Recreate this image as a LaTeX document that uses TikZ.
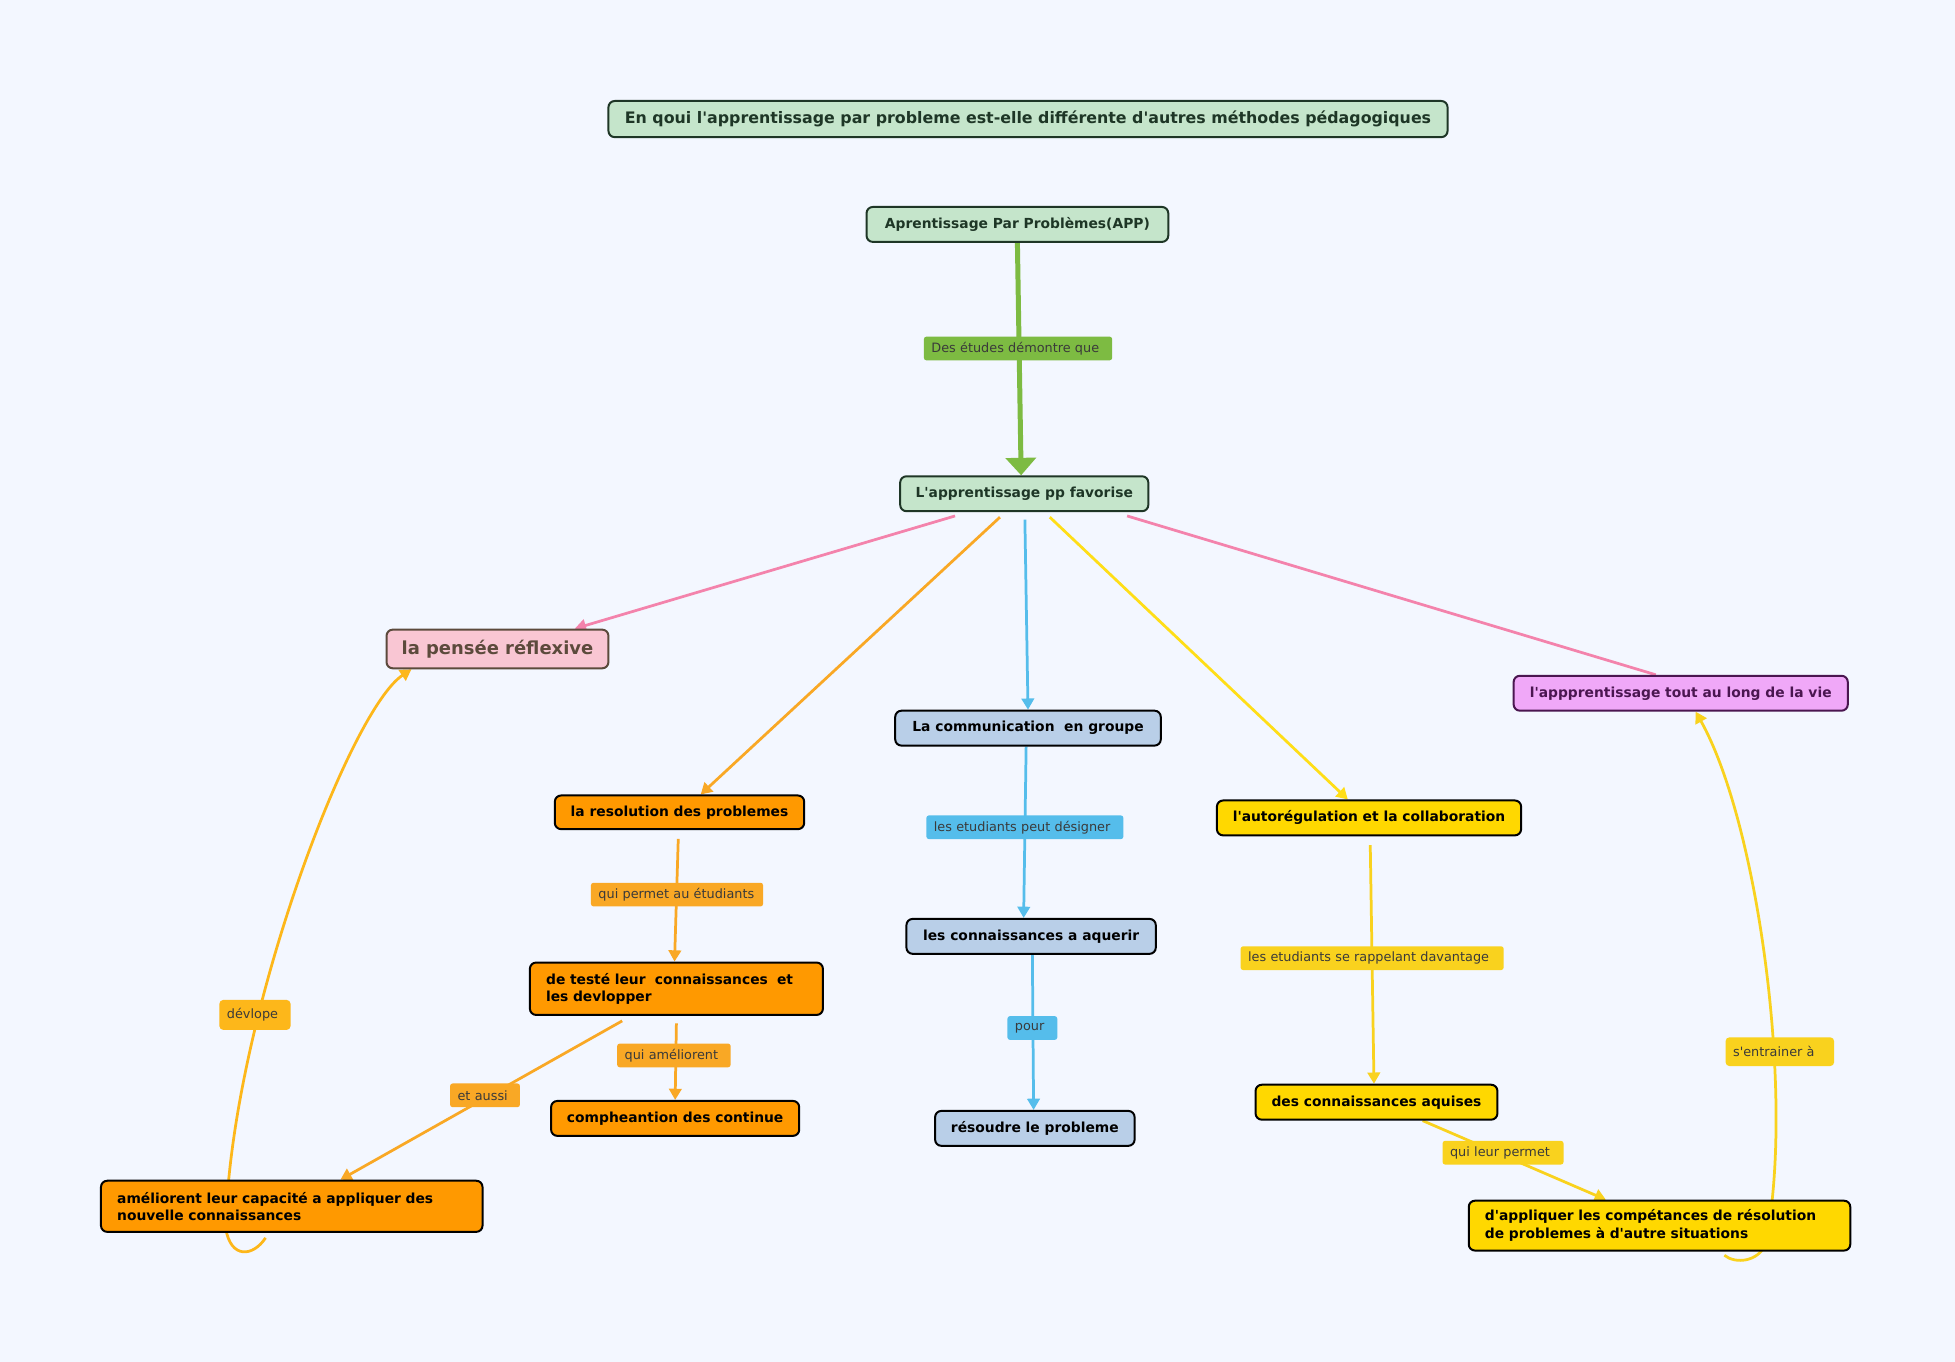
\documentclass[tikz,border=0pt]{standalone}
\usepackage{fontspec}
\setmainfont{DejaVu Sans}
\usetikzlibrary{arrows.meta,calc}
\newcommand{\aq}{\textquotesingle}
\definecolor{bgc}{HTML}{F3F7FF}
\definecolor{dkgreen}{HTML}{1E3626}
\definecolor{lgreen}{HTML}{C5E5CB}
\definecolor{egreen}{HTML}{7DBB42}
\definecolor{epink}{HTML}{F383AC}
\definecolor{eorange}{HTML}{F9A825}
\definecolor{eblue}{HTML}{55BDEB}
\definecolor{eyellow}{HTML}{FFDE17}
\definecolor{lyellow}{HTML}{F9D21E}
\definecolor{edev}{HTML}{FDB71A}
\definecolor{npink}{HTML}{F9C6D3}
\definecolor{nbrown}{HTML}{5C4A3C}
\definecolor{norange}{HTML}{FF9900}
\definecolor{nblue}{HTML}{B9CFE8}
\definecolor{nyellow}{HTML}{FFD800}
\definecolor{nviolet}{HTML}{F0A8F8}
\definecolor{dviolet}{HTML}{4A1650}
\definecolor{lbltext}{HTML}{3A3A3A}
\pgfdeclarelayer{backlayer}
\pgfdeclarelayer{edgelayer}
\pgfsetlayers{backlayer,edgelayer,main}
\tikzset{
  box/.style={draw=black, rounded corners=5pt, line width=1.6pt, inner sep=0pt,
    font=\bfseries\fontsize{11.1}{14}\selectfont, text=black},
  greenbox/.style={box, fill=lgreen, draw=dkgreen, text=dkgreen},
  orangebox/.style={box, fill=norange},
  bluebox/.style={box, fill=nblue},
  yellowbox/.style={box, fill=nyellow},
  lbl/.style={rounded corners=2pt, inner ysep=0pt, inner xsep=6pt, minimum height=19pt,
    align=left, font=\fontsize{10.3}{12}\selectfont, text=lbltext},
  conn/.style={line width=2.2pt, -{Triangle[width=10pt,length=9pt]}},
}
\begin{document}
\begin{tikzpicture}[x=1pt,y=-1pt]
\begin{pgfonlayer}{backlayer}
\fill[bgc] (0,0) rectangle (1568,1092);
\end{pgfonlayer}
\useasboundingbox (0,0) rectangle (1568,1092);

% main nodes
\node[greenbox, minimum width=673pt, minimum height=29pt, font=\bfseries\fontsize{12.7}{14}\selectfont] (title) at (824.5,95.5) {En qoui l\aq apprentissage par probleme est-elle différente d\aq autres méthodes pédagogiques};
\node[greenbox, minimum width=242pt, minimum height=28pt] (app) at (816,180) {Aprentissage Par Problèmes(APP)};
\node[greenbox, minimum width=199pt, minimum height=28pt] (fav) at (821.5,396) {L\aq apprentissage pp favorise};
\node[box, fill=npink, draw=nbrown, text=nbrown, minimum width=178pt, minimum height=31pt, font=\bfseries\fontsize{14.4}{16}\selectfont] (pen) at (399,520.5) {la pensée réflexive};
\node[orangebox, minimum width=200pt, minimum height=27pt] (res) at (545,651.5) {la resolution des problemes};
\node[bluebox, minimum width=213pt, minimum height=28pt] (com) at (824.5,584) {La communication\ \ en groupe};
\node[yellowbox, minimum width=244pt, minimum height=28pt] (aut) at (1098,656) {l\aq autorégulation et la collaboration};
\node[box, fill=nviolet, draw=dviolet, text=dviolet, minimum width=268pt, minimum height=28pt] (vie) at (1348,556) {l\aq appprentissage tout au long de la vie};
\node[orangebox, minimum height=42pt, text width=209pt, inner xsep=13pt, align=left] (tes) at (542.5,793) {de testé leur\ \ connaissances\ \ et\\les devlopper};
\node[orangebox, minimum width=199pt, minimum height=28pt] (cmp) at (541.5,897) {compheantion des continue};
\node[orangebox, minimum height=41pt, text width=280pt, inner xsep=13pt, align=left] (ame) at (234,967.5) {améliorent leur capacité a appliquer des\\nouvelle connaissances};
\node[bluebox, minimum width=200pt, minimum height=28pt] (aqr) at (827,751) {les connaissances a aquerir};
\node[bluebox, minimum width=160pt, minimum height=28pt] (rsd) at (830,905) {résoudre le probleme};
\node[yellowbox, minimum width=194pt, minimum height=28pt] (aqs) at (1104,884) {des connaissances aquises};
\node[yellowbox, minimum height=40pt, text width=280pt, inner xsep=13pt, align=left] (dap) at (1331,983) {d\aq appliquer les compétances de résolution\\de problemes à d\aq autre situations};

% labels
\node[lbl, fill=egreen, text width=139pt] (dem) at (816.5,279.5) {Des études démontre que};
\node[lbl, fill=eblue, text width=146pt] (desg) at (822,663.5) {les etudiants peut désigner};
\node[lbl, fill=eblue, text width=28pt] (pour) at (828,824.5) {pour};
\node[lbl, fill=eorange, text width=126pt] (qpe) at (543,717.5) {qui permet au étudiants};
\node[lbl, fill=eorange, text width=79pt] (qam) at (540.5,846.5) {qui améliorent};
\node[lbl, fill=eorange, text width=44pt] (eta) at (389,878.5) {et aussi};
\node[lbl, fill=edev, text width=45pt, minimum height=24pt, rounded corners=3pt] (dev) at (204.5,814) {dévlope};
\node[lbl, fill=lyellow, text width=199pt] (rap) at (1100.5,768.5) {les etudiants se rappelant davantage};
\node[lbl, fill=lyellow, text width=75pt, minimum height=23pt, rounded corners=3pt] (sen) at (1427.5,843.5) {s\aq entrainer à};
\node[lbl, fill=lyellow, text width=85pt] (qlp) at (1205.5,924.5) {qui leur permet};

\begin{pgfonlayer}{edgelayer}
\draw[egreen, line width=4pt, -{Triangle[width=24pt,length=14pt]}] (app.south) -- ([xshift=-2.5pt]fav.north);
\draw[conn, epink] ([xshift=-55.5pt,yshift=-3pt]fav.south) -- ([xshift=62pt]pen.north);
\draw[conn, eorange] ([xshift=-19.5pt,yshift=-4pt]fav.south) -- ([xshift=17pt]res.north);
\draw[conn, eblue] ([xshift=0.5pt,yshift=-6pt]fav.south) -- (com.north);
\draw[conn, eyellow] ([xshift=20.5pt,yshift=-4pt]fav.south) -- ([xshift=-17pt]aut.north);
\draw[epink, line width=2.2pt] ([xshift=82.5pt,yshift=-3pt]fav.south) -- ([xshift=-20pt]vie.north);
\draw[conn, eorange] ([xshift=-1pt,yshift=-7pt]res.south) -- ([xshift=-1.5pt]tes.north);
\draw[conn, eorange] ([yshift=-6pt]tes.south) -- (cmp.north);
\draw[conn, eorange] ([xshift=-43.5pt,yshift=-4pt]tes.south) -- ([xshift=39pt]ame.north);
\draw[conn, eblue] ([xshift=-1.5pt]com.south) -- ([xshift=-6pt]aqr.north);
\draw[conn, eblue] ([xshift=1pt]aqr.south) -- ([xshift=-1pt]rsd.north);
\draw[conn, lyellow] ([xshift=1pt,yshift=-7pt]aut.south) -- ([xshift=-2pt]aqs.north);
\draw[conn, lyellow] ([xshift=37pt]aqs.south) -- ([xshift=-43pt]dap.north);
\draw[conn, edev] ([xshift=-21pt,yshift=-4pt]ame.south) .. controls (203,1008) and (185,1010) .. (181,985)
  .. controls (185,820) and (280,570) .. ([xshift=-69pt]pen.south);
\draw[conn, lyellow] ([xshift=52pt,yshift=-3pt]dap.south) .. controls (1392,1014) and (1410,1012) .. (1416,998)
  .. controls (1440,880) and (1410,660) .. ([xshift=12pt]vie.south);
\end{pgfonlayer}
\end{tikzpicture}
\end{document}
